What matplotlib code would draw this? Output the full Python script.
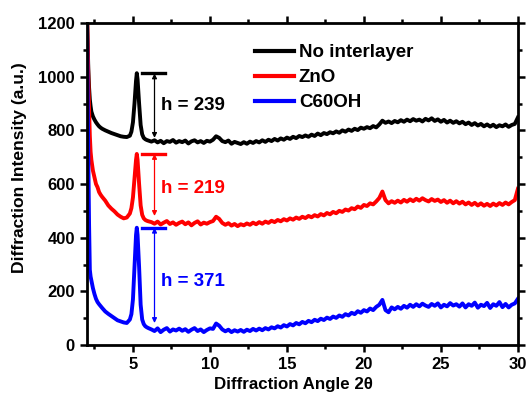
import matplotlib
matplotlib.use('Agg')
import matplotlib.pyplot as plt
from matplotlib.ticker import MultipleLocator

plt.rcParams['font.family'] = ['Liberation Sans', 'DejaVu Sans']
plt.rcParams['font.weight'] = 'bold'

# diffraction angle 2-theta (deg)
angle = [2.0, 2.05, 2.1, 2.15, 2.2, 2.25, 2.3, 2.4, 2.5, 2.6, 2.7, 2.8, 2.9, 3.0,
         3.2, 3.4, 3.6, 3.8, 4.0, 4.2, 4.4, 4.6, 4.8, 4.9, 5.0, 5.1, 5.2, 5.25,
         5.3, 5.4, 5.5, 5.6, 5.7, 5.8, 5.9, 6.0,
         6.2, 6.4, 6.6, 6.8, 7.0, 7.2, 7.4, 7.6, 7.8, 8.0,
         8.2, 8.4, 8.6, 8.8, 9.0, 9.2, 9.4, 9.6, 9.8, 10.0,
         10.2, 10.4, 10.6, 10.8, 11.0, 11.2, 11.4, 11.6, 11.8, 12.0,
         12.2, 12.4, 12.6, 12.8, 13.0, 13.2, 13.4, 13.6, 13.8, 14.0,
         14.2, 14.4, 14.6, 14.8, 15.0, 15.2, 15.4, 15.6, 15.8, 16.0,
         16.2, 16.4, 16.6, 16.8, 17.0, 17.2, 17.4, 17.6, 17.8, 18.0,
         18.2, 18.4, 18.6, 18.8, 19.0, 19.2, 19.4, 19.6, 19.8, 20.0,
         20.2, 20.4, 20.6, 20.8, 21.0, 21.2, 21.4, 21.6, 21.8, 22.0,
         22.2, 22.4, 22.6, 22.8, 23.0, 23.2, 23.4, 23.6, 23.8, 24.0,
         24.2, 24.4, 24.6, 24.8, 25.0, 25.2, 25.4, 25.6, 25.8, 26.0,
         26.2, 26.4, 26.6, 26.8, 27.0, 27.2, 27.4, 27.6, 27.8, 28.0,
         28.2, 28.4, 28.6, 28.8, 29.0, 29.2, 29.4, 29.6, 29.8, 30.0]

no_interlayer = [1300, 1150, 1030, 960, 915, 890, 870, 852, 840, 830, 822, 815, 810, 806,
                 800, 795, 790, 786, 782, 778, 776, 775, 780, 795, 830, 900, 985, 1013,
                 990, 900, 820, 785, 772, 767, 764, 762,
                 758, 763, 755, 761, 752, 760, 757, 764, 754, 760,
                 756, 762, 751, 759, 763, 755, 760, 753, 761, 758,
                 765, 778, 772, 760, 756, 762, 750, 757, 753, 749,
                 756, 750, 758, 753, 760, 755, 763, 757, 765, 760,
                 768, 762, 770, 765, 773, 768, 776, 771, 779, 775,
                 781, 776, 784, 779, 788, 782, 790, 786, 793, 789,
                 796, 791, 800, 795, 803, 798, 806, 801, 810, 806,
                 812, 808, 816, 811, 822, 836, 828, 833, 827, 835,
                 830, 838, 832, 840, 834, 842, 836, 840, 833, 843,
                 837, 845, 835, 841, 832, 839, 829, 836, 828, 834,
                 826, 832, 823, 829, 820, 827, 818, 824, 815, 822,
                 814, 821, 812, 819, 815, 822, 813, 820, 824, 848]

zno = [1300, 1150, 1000, 880, 780, 720, 690, 650, 625, 600, 588, 570, 560, 552,
       538, 520, 508, 498, 486, 478, 472, 475, 490, 510, 550, 620, 690, 712,
       690, 600, 520, 485, 472, 466, 463, 461,
       458, 452, 460, 449, 456, 462, 451, 457, 448, 455,
       460, 450, 457, 446, 455, 461, 449, 456, 452, 458,
       462, 478, 470, 455, 448, 454, 445, 451, 443, 450,
       446, 453, 448, 456, 450, 458, 452, 460, 455, 463,
       458, 466, 461, 469, 464, 472, 467, 475, 470, 478,
       473, 481, 476, 484, 479, 488, 483, 492, 487, 496,
       491, 500, 496, 505, 501, 510, 506, 516, 511, 522,
       518, 528, 524, 535, 548, 572, 540, 528, 536, 530,
       538, 531, 541, 534, 543, 536, 545, 538, 547, 540,
       535, 544, 537, 542, 533, 540, 530, 538, 528, 536,
       527, 534, 524, 531, 522, 530, 520, 528, 519, 526,
       518, 527, 520, 529, 522, 531, 524, 533, 540, 582]

c60oh = [1300, 1000, 700, 450, 280, 255, 240, 212, 190, 172, 160, 152, 145, 138,
         125, 116, 108, 100, 92, 88, 84, 82, 95, 115, 170, 290, 410, 437,
         410, 290, 150, 95, 78, 70, 66, 63,
         58, 52, 62, 48, 57, 63, 50, 58, 54, 61,
         53, 59, 49, 57, 63, 52, 58, 48, 56, 62,
         60, 80, 72, 58, 51, 57, 48, 55, 50, 56,
         49, 57, 52, 60, 54, 61, 55, 63, 58, 66,
         62, 70, 65, 74, 69, 78, 73, 82, 77, 86,
         81, 90, 85, 94, 89, 98, 93, 102, 97, 106,
         101, 110, 105, 115, 110, 120, 115, 126, 120, 130,
         125, 136, 130, 142, 150, 168, 130, 122, 140, 133,
         142, 135, 146, 139, 150, 142, 152, 144, 154, 147,
         142, 153, 146, 155, 140, 150, 144, 156, 147, 152,
         143, 155, 140, 152, 146, 158, 139, 150, 145, 157,
         138, 152, 146, 160, 141, 153, 140, 150, 155, 172]

series = [('No interlayer', no_interlayer, '#000000'),
          ('ZnO', zno, '#ff0000'),
          ('C60OH', c60oh, '#0000ff')]

# peak height markers
peak_tops = [1012, 712, 437]
peak_bottoms = [772, 481, 82]
peak_labels = ['h = 239', 'h = 219', 'h = 371']
label_y = [894, 585, 235]

fig = plt.figure(figsize=(5.29, 3.97), dpi=100)
ax = fig.add_axes([0.164, 0.131, 0.815, 0.811])

for name, vals, col in series:
    ax.plot(angle, vals, color=col, lw=2.8, label=name, solid_joinstyle='round')

for (name, vals, col), top, bot, txt, ty in zip(series, peak_tops, peak_bottoms, peak_labels, label_y):
    ax.plot([5.6, 7.1], [top, top], color=col, lw=2.4)
    ax.annotate('', xy=(6.4, bot), xytext=(6.4, top),
                arrowprops=dict(arrowstyle='<|-|>', color=col, lw=0.9,
                                mutation_scale=7, shrinkA=0, shrinkB=0))
    ax.text(6.85, ty, txt, color=col, fontsize=13.5, fontweight='bold', va='center', ha='left')

ax.set_xlim(2, 30)
ax.set_ylim(0, 1200)
ax.xaxis.set_major_locator(MultipleLocator(5))
ax.xaxis.set_minor_locator(MultipleLocator(2.5))
ax.yaxis.set_major_locator(MultipleLocator(200))
ax.yaxis.set_minor_locator(MultipleLocator(100))
ax.tick_params(which='both', direction='out', top=True, right=True, width=1.8,
               labelsize=12)
ax.tick_params(which='major', length=5)
ax.tick_params(which='minor', length=3)
for lab in ax.get_xticklabels() + ax.get_yticklabels():
    lab.set_fontweight('bold')
for sp in ax.spines.values():
    sp.set_linewidth(2)

ax.set_xlabel('Diffraction Angle 2θ', fontsize=12.2, fontweight='bold')
ax.set_ylabel('Diffraction Intensity (a.u.)', fontsize=12.6, fontweight='bold')
ax.xaxis.set_label_coords(0.48, -0.1)
ax.yaxis.set_label_coords(-0.138, 0.55)

leg = ax.legend(loc='upper left', bbox_to_anchor=(0.39, 0.935), frameon=False,
                fontsize=13.5, handlelength=2.1, handletextpad=0.25,
                labelspacing=0.42, borderpad=0, borderaxespad=0)
for line in leg.get_lines():
    line.set_linewidth(3)
for t in leg.get_texts():
    t.set_fontweight('bold')

fig.savefig('out.png', dpi=100)
